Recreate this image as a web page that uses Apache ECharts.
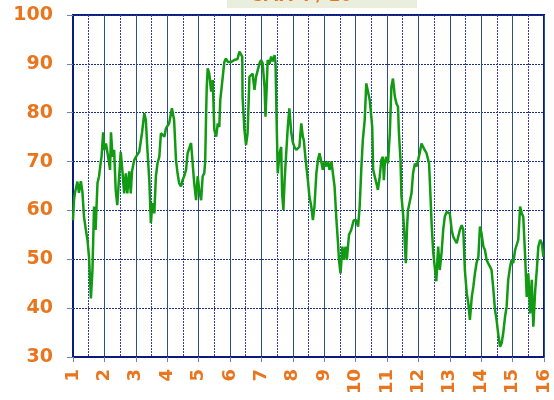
<!DOCTYPE html>
<html>
<head>
<meta charset="utf-8">
<script src="https://cdn.jsdelivr.net/npm/echarts@6/dist/echarts.min.js"></script>
<style>
  html, body { margin: 0; padding: 0; background: #fff; }
  #main { width: 554px; height: 400px; }
</style>
</head>
<body>
<div id="main"></div>
<script>
// x positions (axis units 1..16) and values
var xs = [
  1.00, 1.03, 1.06, 1.14, 1.19, 1.25, 1.30, 1.35, 1.41, 1.46, 1.51, 1.57, 1.62, 1.67, 1.72, 1.78, 1.83, 1.88, 1.91, 1.96,
  1.99, 2.05, 2.15, 2.18, 2.21, 2.26, 2.31, 2.36, 2.41, 2.47, 2.52, 2.57, 2.63, 2.68, 2.73, 2.79, 2.84, 2.88, 2.95, 3.01,
  3.11, 3.20, 3.27, 3.32, 3.37, 3.43, 3.48, 3.53, 3.59, 3.64, 3.69, 3.75, 3.80, 3.91, 3.96, 4.06, 4.15, 4.22, 4.28, 4.33,
  4.38, 4.44, 4.49, 4.54, 4.60, 4.65, 4.76, 4.81, 4.86, 4.92, 4.97, 5.02, 5.08, 5.13, 5.18, 5.21, 5.24, 5.26, 5.29, 5.34,
  5.40, 5.45, 5.50, 5.56, 5.61, 5.66, 5.69, 5.77, 5.82, 5.87, 5.93, 5.98, 6.04, 6.14, 6.24, 6.30, 6.35, 6.39, 6.40, 6.46,
  6.51, 6.56, 6.62, 6.72, 6.78, 6.83, 6.88, 6.94, 6.99, 7.04, 7.10, 7.13, 7.17, 7.20, 7.26, 7.31, 7.36, 7.42, 7.45, 7.48,
  7.52, 7.58, 7.63, 7.66, 7.70, 7.74, 7.79, 7.84, 7.89, 7.95, 8.00, 8.05, 8.11, 8.16, 8.21, 8.27, 8.30, 8.32, 8.35, 8.41,
  8.48, 8.53, 8.59, 8.64, 8.69, 8.75, 8.80, 8.85, 8.91, 8.96, 9.01, 9.07, 9.12, 9.17, 9.23, 9.28, 9.33, 9.39, 9.44, 9.47,
  9.52, 9.58, 9.62, 9.68, 9.72, 9.79, 9.86, 9.94, 10.02, 10.08, 10.13, 10.18, 10.23, 10.29, 10.34, 10.39, 10.45, 10.50, 10.53, 10.56,
  10.66, 10.71, 10.77, 10.82, 10.87, 10.90, 10.93, 10.98, 11.03, 11.09, 11.14, 11.19, 11.25, 11.30, 11.35, 11.38, 11.43, 11.46, 11.51, 11.54,
  11.60, 11.64, 11.67, 11.73, 11.78, 11.83, 11.89, 11.94, 11.99, 12.04, 12.10, 12.15, 12.20, 12.26, 12.31, 12.34, 12.39, 12.42, 12.47, 12.52,
  12.57, 12.63, 12.68, 12.74, 12.79, 12.84, 12.90, 12.95, 13.00, 13.06, 13.11, 13.16, 13.22, 13.27, 13.32, 13.38, 13.43, 13.48, 13.54, 13.59,
  13.64, 13.70, 13.75, 13.80, 13.85, 13.91, 13.96, 14.01, 14.07, 14.12, 14.17, 14.22, 14.28, 14.33, 14.38, 14.44, 14.49, 14.54, 14.60, 14.65,
  14.70, 14.76, 14.81, 14.86, 14.92, 14.97, 15.02, 15.08, 15.13, 15.18, 15.24, 15.29, 15.34, 15.40, 15.45, 15.50, 15.56, 15.61, 15.66, 15.72,
  15.77, 15.82, 15.88, 15.93, 15.98
];
var values = [
  58, 62, 63.5, 65.9, 63.6, 66, 63.8, 58.7, 56, 54, 50.5, 42, 47.8, 60.8, 56, 65.6, 67, 69.7, 71, 76,
  72.4, 73.7, 69.7, 68.3, 76, 71, 72.4, 64.2, 61.1, 67, 72, 68.3, 63.5, 67.6, 63.5, 68, 63.5, 68, 70.3, 71,
  72, 76, 79.9, 78.5, 72.4, 66.2, 57.4, 61.5, 59.4, 67, 69.6, 71, 75.8, 75.1, 76.8, 77.8, 80.9, 78.5, 70.3, 67.6,
  65.6, 64.9, 66.2, 67, 68.3, 71.7, 73.8, 74, 65.6, 62.1, 67, 64.2, 62.1, 67, 67.6, 70, 80, 85.3, 89.1, 88,
  84.3, 86.7, 76.5, 75.1, 77.8, 77.1, 82.6, 87.4, 90.4, 91.1, 90.4, 90.8, 90.4, 90.8, 91, 92.5, 92.8, 91.5, 83.3, 76.5,
  73.4, 75.8, 87.4, 88, 84.7, 87.4, 87.8, 90.1, 90.8, 90.1, 85.3, 79.2, 85.3, 90.8, 90, 91.5, 90.5, 91.8, 90.1, 79.9,
  67.6, 71.7, 73, 63.5, 60.1, 66.2, 71.7, 77, 80.9, 76, 74, 73, 72.4, 72.4, 73, 77.8, 77.8, 75.1, 74.4, 70.3,
  66.2, 62.8, 60.8, 58, 60.8, 67.6, 70.3, 71.7, 72, 68.3, 70, 69, 70, 68.3, 70, 70, 64.9, 58, 53.3, 49.9,
  47.1, 52.6, 49.9, 52.6, 49.9, 55, 56, 58, 58, 56.7, 60.8, 68.3, 74.4, 78.5, 86, 86, 82.6, 79.2, 77, 68.3,
  65.6, 64.2, 67, 70.3, 71, 66.2, 69.6, 71, 69.6, 75.8, 85.3, 87, 83.3, 81.9, 81.2, 75.8, 70.3, 63, 59.4, 56.7,
  49.2, 56.7, 60.1, 59.7, 63.5, 67.6, 69.6, 69, 70.3, 71.7, 73.7, 73, 72.4, 71.7, 71.7, 69.6, 62.1, 57.4, 51.5, 48.5,
  45.5, 52.6, 47.8, 51.5, 56, 58.7, 59.7, 60.1, 59.4, 56, 54.6, 54, 53.3, 52.9, 56, 57, 56, 47.8, 43, 41,
  37.6, 42.3, 44.4, 47.1, 49.2, 50.5, 56.7, 55.3, 52.6, 51.9, 49.9, 49.2, 48.5, 47.8, 44.4, 39.6, 37.6, 34.8, 32.1, 32.8,
  34.8, 38.3, 40.3, 45.8, 48.5, 49.9, 49.2, 51.9, 52.2, 54, 60.8, 59.4, 58.7, 50.5, 42.3, 47.1, 38.9, 45.8, 36.2, 43.7,
  47.8, 52.6, 54, 53.3, 50.5
];
var xTicks = [1, 2, 3, 4, 5, 6, 7, 8, 9, 10, 11, 12, 13, 14, 15, 16];
var xMin = 1, xMax = 16;
var yMin = 30, yMax = 100, yStep = 10;

var orange = '#E8761E';
var navy = '#0A1A80';

var chart = echarts.init(document.getElementById('main'));
var points = xs.map(function (x, i) { return [x, values[i]]; });

chart.setOption({
  animation: false,
  grid: {
    left: 73, right: 10, top: 15, bottom: 43,
    show: true, borderColor: navy, borderWidth: 2, backgroundColor: 'transparent'
  },
  xAxis: {
    type: 'value', min: xMin, max: xMax, interval: 1,
    axisLine: { lineStyle: { color: navy, width: 2 } },
    axisTick: { show: true, length: 5, lineStyle: { color: '#6F87A8' } },
    axisLabel: { show: false },
    splitLine: { show: true, lineStyle: { color: '#2E4F86', width: 1 } },
    minorTick: { show: false, splitNumber: 2 },
    minorSplitLine: { show: true, lineStyle: { color: '#3A3AB0', type: [2, 1], width: 1 } }
  },
  yAxis: {
    type: 'value', min: yMin, max: yMax, interval: yStep,
    axisLine: { show: true, lineStyle: { color: navy, width: 2 } },
    axisTick: { show: true, length: 6, lineStyle: { color: '#6F87A8' } },
    axisLabel: {
      margin: 20, color: orange,
      fontFamily: 'DejaVu Sans', fontWeight: 'bold', fontSize: 19
    },
    splitLine: { show: true, lineStyle: { color: '#1C2F80', type: [2, 1], width: 1 } }
  },
  series: [{
    type: 'line',
    data: points,
    showSymbol: false,
    lineStyle: { color: '#129A12', width: 2.5 },
    z: 5
  }]
});

// x tick labels, turned to read upward, placed with the axis scale
var tickTexts = xTicks.map(function (t) {
  var p = chart.convertToPixel({ xAxisIndex: 0, yAxisIndex: 0 }, [t, yMin]);
  return {
    type: 'text', x: p[0], y: p[1] + 12, rotation: Math.PI / 2, silent: true,
    style: {
      text: String(t), fill: orange, align: 'right', verticalAlign: 'middle',
      font: 'bold 18px "DejaVu Sans"'
    }
  };
});

chart.setOption({
  graphic: [
    { type: 'rect', shape: { x: 227, y: 0, width: 190, height: 8 }, style: { fill: '#EAEEDC' }, z: 10 },
    { type: 'text', left: 250, top: -12, z: 11,
      style: { text: 'СМА 4 / 10', fill: orange, font: 'bold 17px "DejaVu Sans"' } }
  ].concat(tickTexts)
});
</script>
</body>
</html>
